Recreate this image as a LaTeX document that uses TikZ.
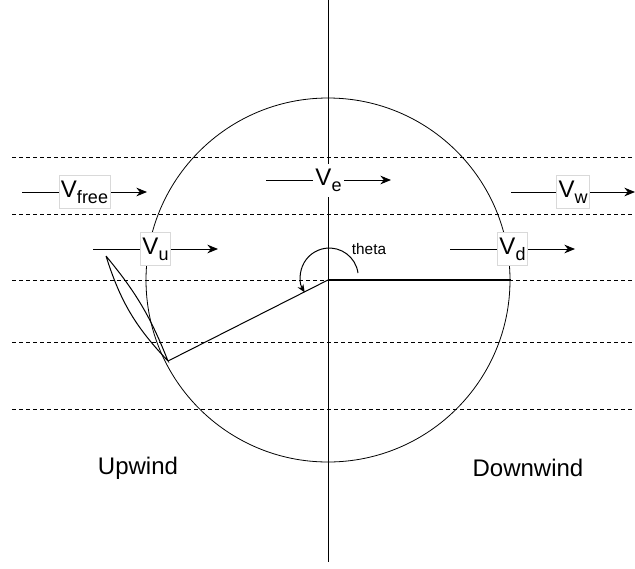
\documentclass[tikz,border=0pt]{standalone}
\usepackage{fontspec}
\setmainfont{Liberation Sans}
\usetikzlibrary{arrows.meta}
\newcommand{\vlab}[1]{V\raisebox{-4.5pt}{\fontsize{13.5}{14}\selectfont #1}}

\begin{document}
\begin{tikzpicture}[x=0.75pt, y=0.75pt, line width=0.75pt,
    every node/.style={font=\fontsize{18}{20}\selectfont},
    flow/.style={-{Stealth[length=8pt, width=6.5pt]}},
    vlabel/.style={fill=white, draw=black!15, line width=0.5pt, inner sep=1.5pt, minimum height=24.75pt},
    stream/.style={dash pattern=on 3pt off 2.25pt}]
    \useasboundingbox (0,0) rectangle (635,-568);

    \coordinate (hub) at (328,-280);
    \coordinate (axtop) at (328,0);
    \coordinate (axbot) at (328,-562);
    \foreach \y in {157,214,280,342,409}
        \draw[stream] (12,-\y) coordinate (sl\y) -- (635,-\y) coordinate (sr\y);

    \node (rotor) [circle, draw, minimum size=273pt, inner sep=0pt, line width=0.6pt] at (hub) {};
    \draw (axtop) -- (axbot);

    % blade and arm
    \coordinate (bladetip) at (106,-256);
    \coordinate (bladeroot) at (168,-361);
    \coordinate (armend) at (511,-280);
    \draw (bladetip) to[bend right=13] (bladeroot) to[bend right=9] (bladetip);
    \draw (hub) -- (bladeroot);
    \draw[line width=1.5pt] (hub) -- (armend);
    \coordinate (thetastart) at (358,-273);
    \draw[-{Stealth[length=6pt, width=5pt]}] (thetastart) arc[start angle=8, end angle=212, radius=29];
    \node (theta) [font=\fontsize{11.5}{12}\selectfont] at (369,-249) {theta};

    % velocities
    \coordinate (free1) at (22,-192);  \coordinate (free2) at (147,-192);
    \coordinate (e1) at (266,-180);    \coordinate (e2) at (391,-180);
    \coordinate (w1) at (511,-192);    \coordinate (w2) at (635,-192);
    \coordinate (u1) at (93,-249);     \coordinate (u2) at (218,-249);
    \coordinate (d1) at (450,-249);    \coordinate (d2) at (575,-249);
    \draw[flow] (free1) -- node[vlabel] (vfree) {\vlab{free}} (free2);
    \draw[flow] (e1) -- node[vlabel, draw=none] (ve) {\vlab{e}} (e2);
    \draw[flow] (w1) -- node[vlabel] (vw) {\vlab{w}} (w2);
    \draw[flow] (u1) -- node[vlabel] (vu) {\vlab{u}} (u2);
    \draw[flow] (d1) -- node[vlabel] (vd) {\vlab{d}} (d2);

    \node (upwind) at (138,-468) {Upwind};
    \node (downwind) at (528,-468) {Downwind};
\end{tikzpicture}
\end{document}
